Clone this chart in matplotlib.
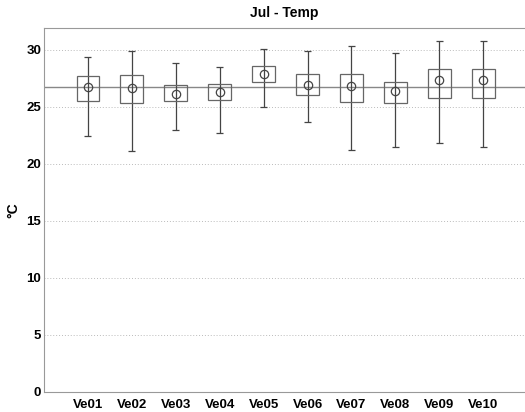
import numpy as np
import matplotlib.pyplot as plt

plt.rcParams['font.family'] = ['Liberation Sans', 'DejaVu Sans']

# data
stations = ['Ve01', 'Ve02', 'Ve03', 'Ve04', 'Ve05', 'Ve06', 'Ve07', 'Ve08', 'Ve09', 'Ve10']
whisk_hi = [29.4, 29.9, 28.8, 28.5, 30.1, 29.9, 30.3, 29.7, 30.8, 30.75]
box_hi = [27.7, 27.8, 26.9, 27.0, 28.6, 27.9, 27.9, 27.2, 28.3, 28.3]
mean = [26.7, 26.6, 26.1, 26.3, 27.9, 26.9, 26.8, 26.35, 27.3, 27.3]
box_lo = [25.5, 25.35, 25.5, 25.6, 27.2, 26.0, 25.4, 25.3, 25.8, 25.8]
whisk_lo = [22.4, 21.1, 23.0, 22.7, 25.0, 23.65, 21.25, 21.5, 21.8, 21.5]
overall = 26.7

fig = plt.figure(figsize=(5.25, 4.12), dpi=100)
ax = fig.add_axes([44/525, 20/412, 1 - 44/525, 364/412])

x = np.arange(len(stations))
w = 0.52
for i in x:
    ax.vlines(i, whisk_lo[i], whisk_hi[i], color='#444444', lw=0.9, zorder=3)
    ax.hlines([whisk_lo[i], whisk_hi[i]], i - 0.08, i + 0.08, color='#444444', lw=0.9, zorder=3)
    ax.add_patch(plt.Rectangle((i - w/2, box_lo[i]), w, box_hi[i] - box_lo[i],
                               fill=False, ec='#666666', lw=0.9, zorder=3))
ax.plot(x, mean, 'o', ms=6, mfc='none', mec='#444444', mew=0.9, zorder=4)
ax.axhline(overall, color='#888888', lw=1.0, zorder=2)

ax.set_xlim(-1, 9.95)
ax.set_ylim(0, 31.9)
ax.set_yticks(range(0, 31, 5))
ax.set_xticks(x)
ax.set_xticklabels(stations, fontweight='bold', fontsize=9.5)
for t in ax.get_yticklabels():
    t.set_fontweight('bold')
    t.set_fontsize(9.5)
ax.tick_params(axis='x', length=0, pad=5)
ax.tick_params(axis='y', length=0, pad=2)
ax.yaxis.grid(True, ls=(0, (1, 2)), color='#bbbbbb', lw=0.7)
ax.set_axisbelow(True)
for s in ['left', 'bottom', 'top']:
    ax.spines[s].set_color('#999999')
ax.spines['right'].set_visible(False)
ax.set_ylabel('°C', fontweight='bold', fontsize=10)
ax.set_title('Jul - Temp', fontweight='bold', fontsize=10, pad=8)

fig.savefig('out.png', dpi=100)
